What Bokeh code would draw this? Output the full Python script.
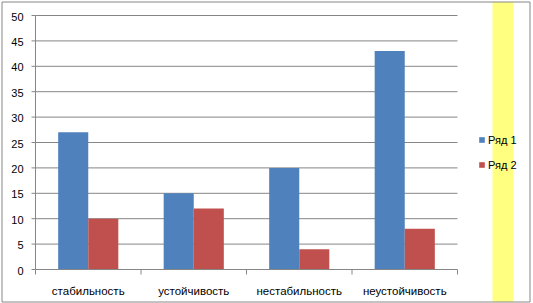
from bokeh.plotting import figure
from bokeh.models import Range1d, Legend, LegendItem
from bokeh.embed import file_html
from bokeh.resources import INLINE

categories = ["стабильность", "устойчивость", "нестабильность", "неустойчивость"]
series1 = [27, 15, 20, 43]
series2 = [10, 12, 4, 8]
series_names = ["Ряд 1", "Ряд 2"]
y_ticks = [0, 5, 10, 15, 20, 25, 30, 35, 40, 45, 50]

BLUE = "#4F81BD"
RED = "#C0504D"
GRID = "#868686"
FONT = "Liberation Sans"

W, H = 533, 303
X0, CW = 35.0, 105.5      # pixel of x=0, pixels per category
Y0, PU = 269.0, 5.08      # pixel of y=0, pixels per unit


def dx(px):
    return (px - X0) / CW


def dy(py):
    return (Y0 - py) / PU


n = len(categories)
p = figure(width=W, height=H, output_backend="svg", toolbar_location=None,
           x_range=Range1d(dx(0), dx(W)), y_range=Range1d(dy(H), dy(0)),
           min_border=0, x_axis_location=None, y_axis_location=None)
p.outline_line_color = None
p.background_fill_color = "white"
p.border_fill_color = "white"
p.xgrid.visible = False
p.ygrid.visible = False

# yellow band
p.quad(left=[dx(492)], right=[dx(513)], bottom=[dy(301.5)], top=[dy(1.5)],
       fill_color="#FFFF80", line_color=None)
# outer border
p.quad(left=[dx(1.5)], right=[dx(529.5)], bottom=[dy(301.5)], top=[dy(1.5)],
       fill_color=None, line_color=GRID, line_width=1)

# horizontal gridlines
gy = [v for v in y_ticks if v > 0]
p.segment(x0=[0] * len(gy), x1=[n] * len(gy), y0=gy, y1=gy, line_color=GRID, line_width=1)

# bars
w = 0.285
xs = list(range(n))
r1 = p.vbar(x=[i + 0.5 - w / 2 for i in xs], top=series1, width=w, fill_color=BLUE, line_color=None)
r2 = p.vbar(x=[i + 0.5 + w / 2 for i in xs], top=series2, width=w, fill_color=RED, line_color=None)

# y axis
p.segment(x0=[0], x1=[0], y0=[0], y1=[y_ticks[-1]], line_color=GRID)
p.segment(x0=[dx(31)] * len(y_ticks), x1=[0] * len(y_ticks), y0=y_ticks, y1=y_ticks, line_color=GRID)
p.text(x=[dx(23)] * len(y_ticks), y=y_ticks, text=[str(v) for v in y_ticks],
       text_align="right", text_baseline="middle", y_offset=1,
       text_font={"value": FONT}, text_font_size="11px", text_color="black")

# x axis
p.segment(x0=[0], x1=[n], y0=[0], y1=[0], line_color=GRID)
p.segment(x0=list(range(n + 1)), x1=list(range(n + 1)), y0=[0] * (n + 1), y1=[dy(274)] * (n + 1),
          line_color=GRID)
p.text(x=[i + 0.5 for i in xs], y=[dy(290)] * n, text=categories,
       text_align="center", text_baseline="alphabetic",
       text_font={"value": FONT}, text_font_size="11.5px", text_color="black")

legend = Legend(items=[LegendItem(label=series_names[0], renderers=[r1]),
                       LegendItem(label=series_names[1], renderers=[r2])],
                location=(478, H - 171), glyph_width=7, glyph_height=7, label_height=13,
                spacing=12, padding=0, margin=0, label_standoff=3,
                border_line_color=None, background_fill_alpha=0,
                label_text_font=FONT, label_text_font_size="11px", label_text_color="black")
p.add_layout(legend)

open("out.html", "w").write(file_html(p, INLINE))
